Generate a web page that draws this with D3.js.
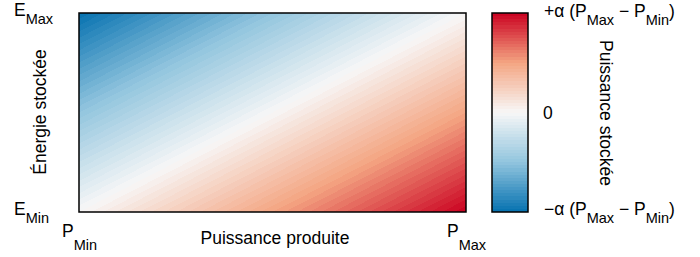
<!DOCTYPE html>
<html>
<head>
<meta charset="utf-8">
<script src="https://cdn.jsdelivr.net/npm/d3@7"></script>
<style>
  body { margin: 0; background: #fff; }
  svg { display: block; }
  text { font-family: 'Liberation Sans', Arial, sans-serif; fill: #000; }
</style>
</head>
<body>
<div id="chart"></div>
<script>
// normalised axes: 0 = Min, 1 = Max
var powerDomain = [0, 1]
var energyDomain = [0, 1]
// stored power at the corners (units of alpha (Pmax - Pmin))
var cornerPower = [-1, 1] // top-left (P_Min, E_Max), bottom-right (P_Max, E_Min)
var colorValues = [-1, -0.5, 0, 0.5, 1]
var colorRange = ['#0571b0', '#92c5de', '#f7f7f7', '#f4a582', '#ca0020']
var cbTicks = [1, 0, -1]
var nLevels = 64

var width = 700
var height = 257
var margin = {left: 79, top: 13, right: 234, bottom: 45}
var plotW = width - margin.left - margin.right
var plotH = height - margin.top - margin.bottom
var cbX = 492
var cbW = 36

var mainSize = 17.5
var subSize = 14.5

var xScale = d3.scaleLinear().domain(powerDomain).range([margin.left, margin.left + plotW])
var yScale = d3.scaleLinear().domain(energyDomain).range([margin.top + plotH, margin.top])
var color = d3.scaleLinear().domain(colorValues).range(colorRange).interpolate(d3.interpolateRgb)
var cbScale = d3.scaleLinear().domain([-1, 1]).range([margin.top + plotH, margin.top])

// banded levels like a filled contour
var bands = d3.range(nLevels).map(function (i) {
  var lo = cornerPower[0] + i * (cornerPower[1] - cornerPower[0]) / nLevels
  var hi = cornerPower[0] + (i + 1) * (cornerPower[1] - cornerPower[0]) / nLevels
  return {lo: lo, hi: hi, c: color((lo + hi) / 2)}
})
var toOffset = d3.scaleLinear().domain(cornerPower).range([0, 1])

var svg = d3.select('#chart').append('svg')
  .attr('width', width)
  .attr('height', height)

var defs = svg.append('defs')

function addBandStops (g) {
  bands.forEach(function (b) {
    g.append('stop').attr('offset', toOffset(b.lo)).attr('stop-color', b.c)
    g.append('stop').attr('offset', toOffset(b.hi)).attr('stop-color', b.c)
  })
}

// diagonal gradient for the field
var grad = defs.append('linearGradient')
  .attr('id', 'field')
  .attr('x1', 0).attr('y1', 0).attr('x2', 1).attr('y2', 1)
addBandStops(grad)

var cbGrad = defs.append('linearGradient')
  .attr('id', 'cb')
  .attr('x1', 0).attr('y1', 1).attr('x2', 0).attr('y2', 0)
addBandStops(cbGrad)

svg.append('rect')
  .attr('x', xScale(powerDomain[0]))
  .attr('y', yScale(energyDomain[1]))
  .attr('width', xScale(powerDomain[1]) - xScale(powerDomain[0]))
  .attr('height', yScale(energyDomain[0]) - yScale(energyDomain[1]))
  .attr('fill', 'url(#field)')
  .attr('stroke', '#000')
  .attr('stroke-width', 1.5)

svg.append('rect')
  .attr('x', cbX)
  .attr('y', cbScale(1))
  .attr('width', cbW)
  .attr('height', cbScale(-1) - cbScale(1))
  .attr('fill', 'url(#cb)')
  .attr('stroke', '#000')
  .attr('stroke-width', 1.5)

// label with subscript: parts = [[text, isSub, drop], ...]
function label (x, y, parts, anchor) {
  var t = svg.append('text')
    .attr('x', x)
    .attr('y', y)
    .attr('text-anchor', anchor || 'start')
  var shift = 0
  parts.forEach(function (p) {
    var s = t.append('tspan').text(p[0])
    var target = p[1] ? (p[2] || 8) : 0
    s.attr('dy', target - shift)
      .style('font-size', (p[1] ? subSize : mainSize) + 'px')
    shift = target
  })
  return t
}

label(14, 16, [['E'], ['Max', true, 8]])
label(14, 215, [['E'], ['Min', true, 8]])
label(62, 237, [['P'], ['Min', true, 13]])
label(447, 237, [['P'], ['Max', true, 13]])

svg.append('text')
  .attr('x', 275)
  .attr('y', 244)
  .attr('text-anchor', 'middle')
  .style('font-size', mainSize + 'px')
  .text('Puissance produite')

svg.append('text')
  .attr('transform', 'translate(46,112) rotate(-90)')
  .attr('text-anchor', 'middle')
  .style('font-size', mainSize + 'px')
  .text('Énergie stockée')

svg.append('text')
  .attr('transform', 'translate(600,113) rotate(90)')
  .attr('text-anchor', 'middle')
  .style('font-size', mainSize + 'px')
  .text('Puissance stockée')

// colour bar labels
var tickY = {'1': 17, '0': 119, '-1': 215}
cbTicks.forEach(function (v) {
  if (v === 0) {
    svg.append('text')
      .attr('x', 543)
      .attr('y', tickY['0'])
      .style('font-size', mainSize + 'px')
      .text('0')
  } else {
    label(544, tickY[String(v)], [
      [(v > 0 ? '+' : '\u2212') + '\u03b1 (P'],
      ['Max', true, 8],
      [' \u2212 P'],
      ['Min', true, 8],
      [')']
    ])
  }
})
</script>
</body>
</html>
